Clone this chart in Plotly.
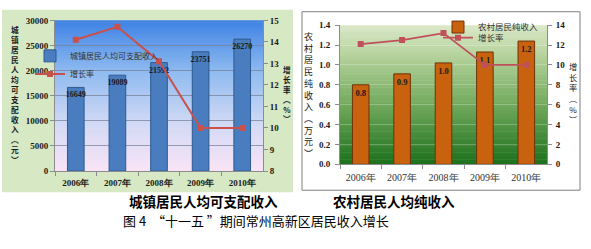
import plotly.graph_objects as go

W, H = 591, 249

years = ["2006年", "2007年", "2008年", "2009年", "2010年"]
urban_income = [16649, 19089, 21592, 23751, 26270]
urban_growth = [14.1, 14.7, 13.1, 10.0, 10.0]
rural_income = [0.80, 0.91, 1.02, 1.13, 1.24]
rural_growth = [12.1, 12.5, 13.2, 10.0, 10.0]

urban_bar_name = "城镇居民人均可支配收入"
rural_bar_name = "农村居民纯收入"
growth_name = "增长率"
urban_ytitle = list("城镇居民人均可支配收入") + ["︵", "元", "︶"]
urban_y2title = ["增", "长", "率", "︵", "%", "︶"]
rural_ytitle = list("农村居民纯收入") + ["︵", "万", "元", "︶"]
rural_y2title = ["增", "长", "率", "︵", "%", "︶"]
caption_left = "城镇居民人均可支配收入"
caption_right = "农村居民人均纯收入"
fig_caption = "图 4  “十一五 ”期间常州高新区居民收入增长"

SERIF = "Liberation Serif"
CJK = "Noto Sans CJK SC"

def px_x(v):
    return v / W

def px_y(v):
    return 1 - v / H

fig = go.Figure()

fig.add_trace(go.Bar(
    x=years, y=urban_income, name=urban_bar_name, xaxis="x", yaxis="y",
    width=0.4,
    marker=dict(color="#4A7DBF", line=dict(color="#2C5A92", width=1)),
    text=[str(v) for v in urban_income], textposition="inside", insidetextanchor="end",
    constraintext="none", textangle=0,
    textfont=dict(family=SERIF, size=8, color="#1a1a1a", weight="bold"),
    legend="legend",
))
fig.add_trace(go.Scatter(
    x=years, y=urban_growth, name=growth_name, xaxis="x", yaxis="y2",
    mode="lines+markers",
    line=dict(color="#C8504D", width=2),
    marker=dict(symbol="square", size=6, color="#C8504D"),
    legend="legend2",
))
fig.add_trace(go.Bar(
    x=years, y=rural_income, name=rural_bar_name, xaxis="x2", yaxis="y3",
    width=0.4,
    marker=dict(color="#C9620F", line=dict(color="#6E3208", width=1)),
    text=[f"{v:.1f}" for v in rural_income], textposition="inside", insidetextanchor="end",
    constraintext="none", textangle=0,
    textfont=dict(family=SERIF, size=8.5, color="#1a1a1a", weight="bold"),
    legend="legend3",
))
fig.add_trace(go.Scatter(
    x=years, y=rural_growth, name=growth_name, xaxis="x2", yaxis="y4",
    mode="lines+markers",
    line=dict(color="#C0505A", width=1.8),
    marker=dict(symbol="square", size=6, color="#C0505A"),
    legend="legend4",
))

shapes = []
shapes.append(dict(type="rect", xref="paper", yref="paper", x0=px_x(2), x1=px_x(293),
                   y0=px_y(195), y1=px_y(5), fillcolor="#D7E9C4", line=dict(width=0), layer="below"))
shapes.append(dict(type="rect", xref="paper", yref="paper", x0=px_x(302), x1=px_x(580),
                   y0=px_y(193), y1=px_y(7), fillcolor="white", line=dict(color="#7F7F7F", width=1),
                   layer="below"))

def lerp_stops(stops, t):
    for i in range(len(stops) - 1):
        t0, c0 = stops[i]
        t1, c1 = stops[i + 1]
        if t0 <= t <= t1:
            f = (t - t0) / (t1 - t0) if t1 > t0 else 0
            return tuple(int(round(c0[k] + (c1[k] - c0[k]) * f)) for k in range(3))
    return stops[-1][1]

def gradient(xref, yref, stops, n=60):
    out = []
    for i in range(n):
        a = i / n
        b = (i + 1) / n
        c = lerp_stops(stops, (a + b) / 2)
        out.append(dict(type="rect", xref=xref, yref=yref, x0=0, x1=1, y0=a, y1=min(1, b + 0.004),
                        fillcolor="rgb(%d,%d,%d)" % c, line=dict(width=0), layer="below"))
    return out

blue_stops = [(0.0, (250, 228, 246)), (0.3, (212, 218, 246)), (0.65, (145, 188, 240)), (1.0, (62, 130, 228))]
green_stops = [(0.0, (28, 112, 28)), (0.45, (118, 172, 96)), (0.8, (185, 212, 160)), (1.0, (218, 232, 200))]
shapes += gradient("x domain", "y domain", blue_stops)
shapes += gradient("x2 domain", "y3 domain", green_stops)

annotations = []

def vtitle(chars, xc, ytop, ybottom, size, bold, color="#1a1a1a"):
    annotations.append(dict(
        x=px_x(xc), y=px_y((ytop + ybottom) / 2), xref="paper", yref="paper",
        text="<br>".join(chars), showarrow=False, xanchor="center", yanchor="middle",
        align="center",
        font=dict(family=CJK, size=size, color=color, weight="bold" if bold else "normal"),
    ))

vtitle(urban_ytitle, 15, 29, 158, 7.7, True)
vtitle(urban_y2title, 287, 68, 117, 7.6, True)
vtitle(rural_ytitle, 308, 35, 152, 9.0, False)
vtitle(rural_y2title, 573, 65, 118, 8.2, False)

annotations.append(dict(x=px_x(127), y=px_y(217), xref="paper", yref="paper", text=caption_left,
                        showarrow=False, font=dict(family=CJK, size=13.5, color="black", weight="bold")))
annotations.append(dict(x=px_x(394), y=px_y(217), xref="paper", yref="paper", text=caption_right,
                        showarrow=False, font=dict(family=CJK, size=13.5, color="black", weight="bold")))
annotations.append(dict(x=px_x(256), y=px_y(237), xref="paper", yref="paper", text=fig_caption,
                        showarrow=False, font=dict(family=CJK, size=13, color="black")))

axis_gray = "#8C8C8C"
tick_left = dict(family=SERIF, size=9, color="#1a1a1a", weight="bold")

leg_common = dict(xanchor="left", yanchor="middle", bgcolor="rgba(0,0,0,0)", borderwidth=0,
                  itemwidth=30, traceorder="normal")

fig.update_layout(
    width=W, height=H,
    margin=dict(l=0, r=0, t=0, b=0),
    paper_bgcolor="white", plot_bgcolor="rgba(0,0,0,0)",
    showlegend=True,
    xaxis=dict(domain=[px_x(55), px_x(263)], anchor="y", type="category",
               tickfont=tick_left, showline=True, linecolor=axis_gray, ticklabelstandoff=3,
               ticks="outside", ticklen=4, tickcolor=axis_gray, tickson="boundaries", showgrid=False),
    yaxis=dict(domain=[px_y(173), px_y(16)], anchor="x", range=[0, 30000], dtick=5000, tickformat="d",
               tickfont=tick_left, showline=True, linecolor=axis_gray, ticks="outside", ticklen=4,
               tickcolor=axis_gray, showgrid=True, gridcolor="rgba(120,130,150,0.75)", gridwidth=1,
               zeroline=False),
    yaxis2=dict(overlaying="y", anchor="x", side="right", range=[8, 15], dtick=1,
                tickfont=tick_left, showline=True, linecolor=axis_gray, ticks="outside", ticklen=4,
                tickcolor=axis_gray, showgrid=False, zeroline=False),
    xaxis2=dict(domain=[px_x(340), px_x(547)], anchor="y3", type="category", ticklabelstandoff=4,
                tickfont=dict(family=SERIF, size=10, color="#333333"), showline=True, linecolor=axis_gray,
                ticks="outside", ticklen=4, tickcolor=axis_gray, tickson="boundaries", showgrid=False),
    yaxis3=dict(domain=[px_y(166), px_y(21)], anchor="x2", range=[0, 1.4], dtick=0.2, tickformat=".1f",
                tickfont=tick_left, showline=True, linecolor=axis_gray, ticks="outside", ticklen=4,
                ticklabelstandoff=3,
                tickcolor=axis_gray, showgrid=True, gridcolor="rgba(255,255,255,0.25)", zeroline=False),
    yaxis4=dict(overlaying="y3", anchor="x2", side="right", range=[0, 14], dtick=2,
                tickfont=tick_left, showline=True, linecolor=axis_gray, ticks="outside", ticklen=4,
                ticklabelstandoff=2,
                tickcolor=axis_gray, showgrid=False, zeroline=False),
    legend=dict(x=px_x(30), y=px_y(53), font=dict(family=CJK, size=8, color="#333333"), **leg_common),
    legend2=dict(x=px_x(30), y=px_y(72), font=dict(family=CJK, size=8, color="#333333"), **leg_common),
    legend3=dict(x=px_x(438), y=px_y(23), font=dict(family=CJK, size=8.5, color="#333333"), **leg_common),
    legend4=dict(x=px_x(438), y=px_y(34), font=dict(family=CJK, size=8.5, color="#333333"), **leg_common),
    shapes=shapes,
    annotations=annotations,
)

fig.write_html("out.html")
